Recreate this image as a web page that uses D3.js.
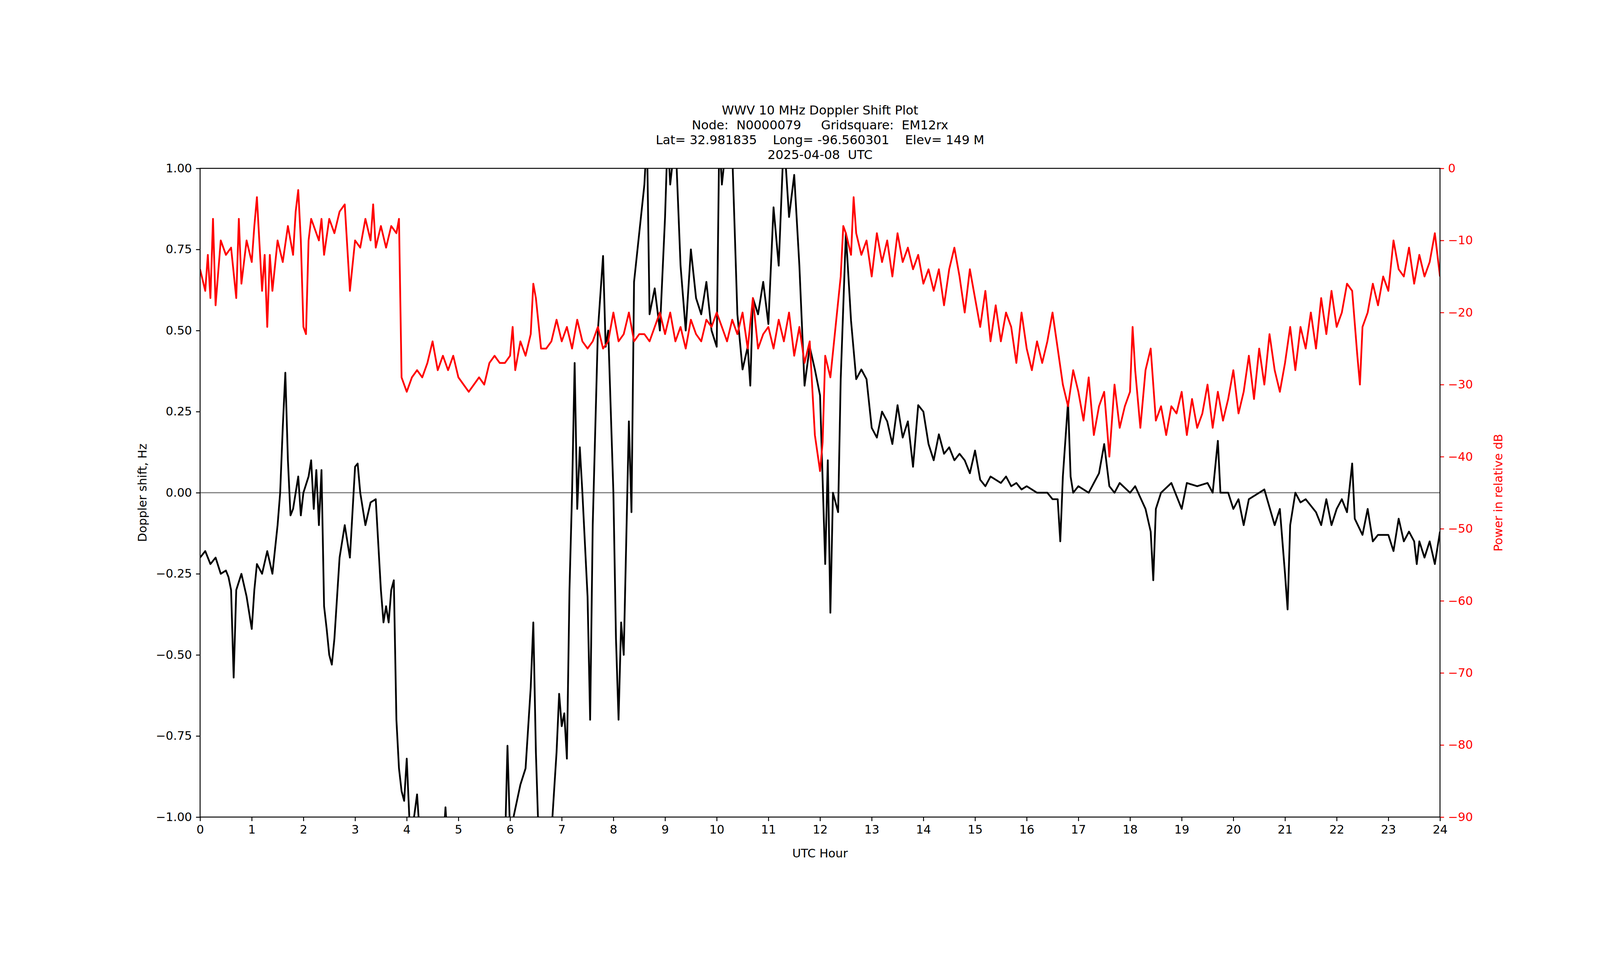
<!DOCTYPE html>
<html><head><meta charset="utf-8">
<script src="https://cdn.jsdelivr.net/npm/d3@7"></script>
<style>html,body{margin:0;padding:0;background:#fff;overflow:hidden;width:100%;height:100%}svg{display:block;width:100vw;height:100vh}text{font-family:"DejaVu Sans",sans-serif}</style>
</head><body>
<script>
const titleLines = ["WWV 10 MHz Doppler Shift Plot","Node:  N0000079     Gridsquare:  EM12rx","Lat= 32.981835    Long= -96.560301    Elev= 149 M","2025-04-08  UTC"];
const xTicks = d3.range(0,25,1);
const leftTicks = [-1,-0.75,-0.5,-0.25,0,0.25,0.5,0.75,1];
const rightTicks = [-90,-80,-70,-60,-50,-40,-30,-20,-10,0];
const dopplerHours = [0,0.1,0.2,0.3,0.4,0.5,0.55,0.6,0.65,0.7,0.8,0.9,1.0,1.05,1.1,1.2,1.3,1.4,1.5,1.55,1.6,1.65,1.7,1.75,1.8,1.9,1.95,2.0,2.1,2.15,2.2,2.25,2.3,2.35,2.4,2.45,2.5,2.55,2.6,2.7,2.8,2.9,3.0,3.05,3.1,3.2,3.3,3.4,3.5,3.55,3.6,3.65,3.7,3.75,3.8,3.85,3.9,3.95,4.0,4.05,4.1,4.2,4.25,4.3,4.7,4.75,4.8,5.9,5.95,6.0,6.2,6.3,6.4,6.45,6.5,6.55,6.8,6.9,6.95,7.0,7.05,7.1,7.15,7.2,7.25,7.3,7.35,7.4,7.5,7.55,7.6,7.7,7.8,7.85,7.9,8.0,8.05,8.1,8.15,8.2,8.3,8.35,8.4,8.5,8.6,8.65,8.7,8.8,8.9,9.0,9.05,9.1,9.2,9.3,9.4,9.5,9.6,9.7,9.8,9.9,10.0,10.05,10.1,10.2,10.3,10.4,10.5,10.6,10.65,10.7,10.8,10.9,11.0,11.1,11.2,11.3,11.4,11.5,11.6,11.7,11.8,11.9,12.0,12.1,12.15,12.2,12.25,12.35,12.4,12.5,12.6,12.7,12.8,12.9,13.0,13.1,13.2,13.3,13.4,13.5,13.6,13.7,13.8,13.9,14.0,14.1,14.2,14.3,14.4,14.5,14.6,14.7,14.8,14.9,15.0,15.1,15.2,15.3,15.5,15.6,15.7,15.8,15.9,16.0,16.2,16.4,16.5,16.6,16.65,16.7,16.8,16.85,16.9,17.0,17.2,17.3,17.4,17.5,17.6,17.7,17.8,18.0,18.1,18.3,18.4,18.45,18.5,18.6,18.8,19.0,19.1,19.3,19.5,19.6,19.7,19.75,19.9,20.0,20.1,20.2,20.3,20.5,20.6,20.8,20.9,21.0,21.05,21.1,21.2,21.3,21.4,21.6,21.7,21.8,21.9,22.0,22.1,22.2,22.3,22.35,22.5,22.6,22.7,22.8,23.0,23.1,23.2,23.3,23.4,23.5,23.55,23.6,23.7,23.8,23.9,24.0];
const dopplerValues = [-0.2,-0.18,-0.22,-0.2,-0.25,-0.24,-0.26,-0.3,-0.57,-0.3,-0.25,-0.32,-0.42,-0.3,-0.22,-0.25,-0.18,-0.25,-0.1,0.0,0.2,0.37,0.1,-0.07,-0.05,0.05,-0.07,0.0,0.05,0.1,-0.05,0.07,-0.1,0.07,-0.35,-0.42,-0.5,-0.53,-0.45,-0.2,-0.1,-0.2,0.08,0.09,0.0,-0.1,-0.03,-0.02,-0.3,-0.4,-0.35,-0.4,-0.3,-0.27,-0.7,-0.85,-0.92,-0.95,-0.82,-1.0,-1.05,-0.93,-1.05,-1.1,-1.1,-0.97,-1.1,-1.1,-0.78,-1.05,-0.9,-0.85,-0.6,-0.4,-0.8,-1.05,-1.05,-0.8,-0.62,-0.72,-0.68,-0.82,-0.3,0.0,0.4,-0.05,0.14,0.0,-0.32,-0.7,-0.1,0.5,0.73,0.45,0.5,0.0,-0.45,-0.7,-0.4,-0.5,0.22,-0.06,0.65,0.8,0.95,1.1,0.55,0.63,0.5,0.85,1.1,0.95,1.1,0.7,0.5,0.75,0.6,0.55,0.65,0.5,0.45,1.1,0.95,1.1,1.05,0.55,0.38,0.45,0.33,0.6,0.55,0.65,0.52,0.88,0.7,1.1,0.85,0.98,0.7,0.33,0.45,0.38,0.3,-0.22,0.1,-0.37,0.0,-0.06,0.35,0.8,0.53,0.35,0.38,0.35,0.2,0.17,0.25,0.22,0.15,0.27,0.17,0.22,0.08,0.27,0.25,0.15,0.1,0.18,0.12,0.14,0.1,0.12,0.1,0.06,0.13,0.04,0.02,0.05,0.03,0.05,0.02,0.03,0.01,0.02,0.0,0.0,-0.02,-0.02,-0.15,0.05,0.28,0.05,0.0,0.02,0.0,0.03,0.06,0.15,0.02,0.0,0.03,0.0,0.02,-0.05,-0.12,-0.27,-0.05,0.0,0.03,-0.05,0.03,0.02,0.03,0.0,0.16,0.0,0.0,-0.05,-0.02,-0.1,-0.02,0.0,0.01,-0.1,-0.05,-0.25,-0.36,-0.1,0.0,-0.03,-0.02,-0.06,-0.1,-0.02,-0.1,-0.05,-0.02,-0.06,0.09,-0.08,-0.13,-0.05,-0.15,-0.13,-0.13,-0.18,-0.08,-0.15,-0.12,-0.15,-0.22,-0.15,-0.2,-0.15,-0.22,-0.12];
const powerHours = [0,0.1,0.15,0.2,0.25,0.3,0.4,0.5,0.6,0.7,0.75,0.8,0.9,1.0,1.05,1.1,1.2,1.25,1.3,1.35,1.4,1.5,1.6,1.7,1.8,1.85,1.9,1.95,2.0,2.05,2.1,2.15,2.2,2.3,2.35,2.4,2.5,2.6,2.7,2.8,2.9,3.0,3.1,3.2,3.3,3.35,3.4,3.5,3.6,3.7,3.8,3.85,3.9,4.0,4.1,4.2,4.3,4.4,4.5,4.6,4.7,4.8,4.9,5.0,5.1,5.2,5.3,5.4,5.5,5.6,5.7,5.8,5.9,6.0,6.05,6.1,6.2,6.3,6.4,6.45,6.5,6.6,6.7,6.8,6.9,7.0,7.1,7.2,7.3,7.4,7.5,7.6,7.7,7.8,7.9,8.0,8.1,8.2,8.3,8.4,8.5,8.6,8.7,8.8,8.9,9.0,9.1,9.2,9.3,9.4,9.5,9.6,9.7,9.8,9.9,10.0,10.1,10.2,10.3,10.4,10.5,10.6,10.7,10.8,10.9,11.0,11.1,11.2,11.3,11.4,11.5,11.6,11.7,11.8,11.9,12.0,12.05,12.1,12.2,12.3,12.4,12.45,12.5,12.6,12.65,12.7,12.8,12.9,13.0,13.1,13.2,13.3,13.4,13.5,13.6,13.7,13.8,13.9,14.0,14.1,14.2,14.3,14.4,14.5,14.6,14.7,14.8,14.9,15.0,15.1,15.2,15.3,15.4,15.5,15.6,15.7,15.8,15.9,16.0,16.1,16.2,16.3,16.4,16.5,16.6,16.7,16.8,16.9,17.0,17.1,17.2,17.3,17.4,17.5,17.6,17.7,17.8,17.9,18.0,18.05,18.1,18.2,18.3,18.4,18.5,18.6,18.7,18.8,18.9,19.0,19.1,19.2,19.3,19.4,19.5,19.6,19.7,19.8,19.9,20.0,20.1,20.2,20.3,20.4,20.5,20.6,20.7,20.8,20.9,21.0,21.1,21.2,21.3,21.4,21.5,21.6,21.7,21.8,21.9,22.0,22.1,22.2,22.3,22.4,22.45,22.5,22.6,22.7,22.8,22.9,23.0,23.1,23.2,23.3,23.4,23.5,23.6,23.7,23.8,23.9,24.0];
const powerValues = [-14,-17,-12,-18,-7,-19,-10,-12,-11,-18,-7,-16,-10,-13,-8,-4,-17,-12,-22,-12,-17,-10,-13,-8,-12,-6,-3,-10,-22,-23,-10,-7,-8,-10,-7,-12,-7,-9,-6,-5,-17,-10,-11,-7,-10,-5,-11,-8,-11,-8,-9,-7,-29,-31,-29,-28,-29,-27,-24,-28,-26,-28,-26,-29,-30,-31,-30,-29,-30,-27,-26,-27,-27,-26,-22,-28,-24,-26,-23,-16,-18,-25,-25,-24,-21,-24,-22,-25,-21,-24,-25,-24,-22,-25,-24,-20,-24,-23,-20,-24,-23,-23,-24,-22,-20,-23,-20,-24,-22,-25,-21,-23,-24,-21,-22,-20,-22,-24,-21,-23,-20,-25,-18,-25,-23,-22,-25,-21,-24,-20,-26,-22,-27,-24,-37,-42,-38,-26,-29,-22,-15,-8,-9,-12,-4,-9,-12,-10,-15,-9,-13,-10,-15,-9,-13,-11,-14,-12,-16,-14,-17,-14,-19,-14,-11,-15,-20,-14,-18,-22,-17,-24,-19,-24,-20,-22,-27,-20,-25,-28,-24,-27,-24,-20,-25,-30,-33,-28,-31,-35,-29,-37,-33,-31,-40,-30,-36,-33,-31,-22,-28,-36,-28,-25,-35,-33,-37,-33,-34,-31,-37,-32,-36,-34,-30,-36,-31,-35,-32,-28,-34,-31,-26,-32,-25,-30,-23,-28,-31,-27,-22,-28,-22,-25,-20,-25,-18,-23,-17,-22,-20,-16,-17,-26,-30,-22,-20,-16,-19,-15,-17,-10,-14,-15,-11,-16,-12,-15,-13,-9,-15];

const W=4750,H=2500, L=594,R=4275,T=300,B=2225, FS=35;
const svg=d3.select("body").append("svg").attr("viewBox",`0 0 ${W} ${H}`).attr("preserveAspectRatio","xMidYMid meet");
const x=d3.scaleLinear().domain([0,24]).range([L,R]);
const yL=d3.scaleLinear().domain([-1,1]).range([B,T]);
const yR=d3.scaleLinear().domain([-90,0]).range([B,T]);
svg.append("clipPath").attr("id","c").append("rect").attr("x",L).attr("y",T).attr("width",R-L).attr("height",B-T);

svg.append("line").attr("x1",L).attr("x2",R).attr("y1",yL(0)).attr("y2",yL(0)).attr("stroke","#808080").attr("stroke-width",3.5);
const g=svg.append("g").attr("clip-path","url(#c)");
g.append("path").datum(d3.zip(dopplerHours,dopplerValues)).attr("fill","none").attr("stroke","#000").attr("stroke-width",5.2).attr("stroke-linejoin","round")
 .attr("d",d3.line().x(d=>x(d[0])).y(d=>yL(d[1])));
g.append("path").datum(d3.zip(powerHours,powerValues)).attr("fill","none").attr("stroke","#ff0000").attr("stroke-width",5.2).attr("stroke-linejoin","round")
 .attr("d",d3.line().x(d=>x(d[0])).y(d=>yR(d[1])));

function style(sel,col){sel.selectAll("text").attr("font-size",FS).attr("fill",col).attr("font-family","DejaVu Sans");
 sel.selectAll("line").attr("stroke","#000").attr("stroke-width",2.8); sel.select(".domain").remove();}
const fmt=v=>(v<0?"\u2212":"")+Math.abs(v).toFixed(2);
const ax=svg.append("g").attr("transform",`translate(0,${B})`).call(d3.axisBottom(x).tickValues(xTicks).tickFormat(d3.format("d")).tickSize(12).tickPadding(12)); style(ax,"#000");
const al=svg.append("g").attr("transform",`translate(${L},0)`).call(d3.axisLeft(yL).tickValues(leftTicks).tickFormat(fmt).tickSize(12).tickPadding(12)); style(al,"#000");
const ar=svg.append("g").attr("transform",`translate(${R},0)`).call(d3.axisRight(yR).tickValues(rightTicks).tickFormat(v=>(v<0?"\u2212":"")+Math.abs(v)).tickSize(12).tickPadding(12)); style(ar,"red");
ar.selectAll("line").attr("stroke","red");
svg.append("rect").attr("x",L).attr("y",T).attr("width",R-L).attr("height",B-T).attr("fill","none").attr("stroke","#000").attr("stroke-width",2.8);

svg.append("text").attr("x",(L+R)/2).attr("y",2345).attr("text-anchor","middle").attr("font-size",FS).text("UTC Hour");
svg.append("text").attr("transform",`translate(435,${(T+B)/2}) rotate(-90)`).attr("text-anchor","middle").attr("font-size",FS).text("Doppler shift, Hz");
svg.append("text").attr("transform",`translate(4460,${(T+B)/2}) rotate(-90)`).attr("text-anchor","middle").attr("font-size",FS).attr("fill","red").text("Power in relative dB");
titleLines.forEach((t,i)=>svg.append("text").attr("x",(L+R)/2).attr("y",140+i*44).attr("text-anchor","middle").attr("font-size",FS+2).attr("xml:space","preserve").style("white-space","pre").text(t));
</script>
</body></html>
